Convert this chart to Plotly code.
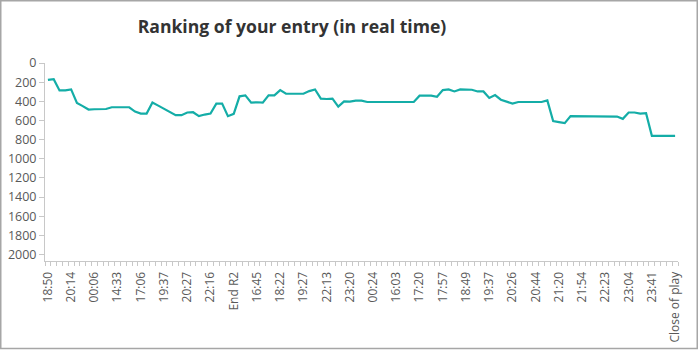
import plotly.graph_objects as go

# Ranking snapshots, one per update (lower = better)
ranks = [
    176, 169, 286, 286, 276, 417, 450, 486, 483, 483,
    480, 462, 462, 466, 462, 507, 528, 528, 413, 445,
    476, 507, 545, 545, 517, 514, 555, 538, 528, 424,
    424, 555, 531, 348, 338, 414, 410, 414, 338, 338,
    283, 321, 324, 321, 321, 293, 276, 372, 376, 372,
    455, 400, 403, 393, 393, 407, 407, 407, 407, 407,
    407, 407, 407, 407, 341, 341, 341, 352, 283, 276,
    297, 276, 279, 279, 297, 297, 365, 335, 383, 405,
    424, 407, 407, 403, 407, 407, 390, 607, 617, 628,
    555, 555, 555, 562, 555, 559, 559, 559, 559, 583,
    517, 517, 528, 524, 760, 760, 760, 760, 760,
]

# Time labels shown on the axis, one every fourth snapshot
tick_labels = [
    "18:50", "20:14", "00:06", "14:33", "17:06", "19:37", "20:27",
    "22:16", "End R2", "16:45", "18:22", "19:27", "22:13", "23:20",
    "00:24", "16:03", "17:20", "17:57", "18:49", "19:37", "20:26",
    "20:44", "21:20", "21:54", "22:23", "23:04", "23:41", "Close of play",
]
label_step = 4

y_ticks = list(range(0, 2001, 200))

x = list(range(len(ranks)))
tick_pos = x[::label_step]

AXIS_GREY = "#c8c8c8"
TEXT_GREY = "#595959"

fig = go.Figure(
    go.Scatter(
        x=x,
        y=ranks,
        mode="lines",
        line=dict(color="#14ADA7", width=2.2),
        hoverinfo="y",
    )
)

# plot area in pixels
W, H = 699, 350
L, R, T, B = 45, 21, 63, 89
pw, ph = W - L - R, H - T - B

def px_to_paper_x(px):
    return (px - L) / pw

def px_to_paper_y(py):
    return (H - B - py) / ph

fig.update_layout(
    width=W,
    height=H,
    margin=dict(l=L, r=R, t=T, b=B, autoexpand=False),
    paper_bgcolor="white",
    plot_bgcolor="white",
    showlegend=False,
    font=dict(family="Open Sans, Noto Sans, sans-serif", size=12, color=TEXT_GREY),
    title=dict(
        text="<b>Ranking of your entry (in real time)</b>",
        x=292 / W,
        xref="container",
        xanchor="center",
        y=1 - 27 / H,
        yref="container",
        yanchor="middle",
        font=dict(family="Open Sans, Noto Sans, sans-serif", size=17.6, color="#333333"),
    ),
    xaxis=dict(
        range=[-0.5, len(ranks) - 0.5],
        tickmode="array",
        tickvals=tick_pos,
        ticktext=tick_labels,
        tickangle=-90,
        ticks="",
        ticklabelstandoff=5,
        automargin=False,
        showgrid=False,
        zeroline=False,
        showline=True,
        linecolor=AXIS_GREY,
        linewidth=1,
        tickfont=dict(size=12, color=TEXT_GREY),
        minor=dict(
            tickmode="linear",
            tick0=-0.5,
            dtick=1,
            ticks="outside",
            ticklen=4,
            tickcolor=AXIS_GREY,
            tickwidth=1,
            showgrid=False,
        ),
    ),
    yaxis=dict(
        range=[2067, 0],
        tickmode="array",
        tickvals=y_ticks,
        ticks="outside",
        ticklen=5,
        tickcolor=AXIS_GREY,
        automargin=False,
        showgrid=False,
        zeroline=False,
        showline=True,
        linecolor=AXIS_GREY,
        linewidth=1,
        tickfont=dict(size=12.5, color=TEXT_GREY),
    ),
    shapes=[
        dict(
            type="rect",
            xref="paper",
            yref="paper",
            x0=px_to_paper_x(0.75),
            x1=px_to_paper_x(W - 1.75),
            y0=px_to_paper_y(H - 1.5),
            y1=px_to_paper_y(0.75),
            line=dict(color="#a6a6a6", width=1.5),
            fillcolor="rgba(0,0,0,0)",
            layer="below",
        )
    ],
)

fig.write_html("out.html")
